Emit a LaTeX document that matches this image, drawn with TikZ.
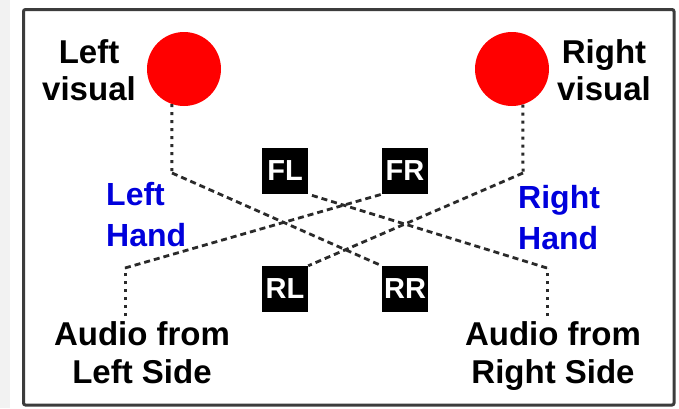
\documentclass[tikz,border=0pt]{standalone}
\usepackage{fontspec}
\setmainfont{Liberation Sans}
\usetikzlibrary{calc}
\definecolor{framegray}{HTML}{3C3C3C}
\definecolor{wire}{HTML}{2A2A2A}
\definecolor{handblue}{HTML}{0000DC}
\definecolor{spot}{HTML}{FF0000}

\begin{document}
\begin{tikzpicture}[x=1pt,y=-1pt,
  lbl/.style={font=\bfseries\fontsize{33}{37}\selectfont, inner sep=0pt, align=center},
  audio/.style={font=\bfseries\fontsize{33}{38}\selectfont, inner sep=0pt, align=center},
  hand/.style={font=\bfseries\fontsize{32}{41}\selectfont, text=handblue, inner sep=0pt, align=left},
  spk/.style={fill=black, text=white, minimum size=46pt, inner sep=0pt, font=\bfseries\fontsize{29}{29}\selectfont},
  eye/.style={circle, fill=spot, minimum size=74pt, inner sep=0pt},
  dotline/.style={draw=wire, line width=3pt, dash pattern=on 3pt off 5pt},
  dashline/.style={draw=wire, line width=2.8pt, dash pattern=on 6pt off 4pt},
]
\useasboundingbox (0,0) rectangle (679,408);
\fill[white] (0,0) rectangle (679,408);
\fill[gray!10] (0,0) rectangle (10,408);
\draw[framegray, line width=3pt, rounded corners=2pt] (23.5,9.5) rectangle (674,405);

% visual targets
\node[eye] (LV) at (184,69) {};
\node[eye] (RV) at (512,69) {};
\node[lbl, anchor=north] (LVt) at (89,39) {Left\\visual};
\node[lbl, anchor=north] (RVt) at (604,39) {Right\\visual};

% hand labels
\node[hand, anchor=north west] (LH) at (106,182) {Left\\Hand};
\node[hand, anchor=north west] (RH) at (518,185) {Right\\Hand};

% audio sources
\node[audio, anchor=north] (AL) at (142,321) {Audio from\\Left Side};
\node[audio, anchor=north] (AR) at (553,321) {Audio from\\Right Side};

% speaker boxes
\node[spk] (FL) at (285,171) {FL};
\node[spk] (FR) at (405,171) {FR};
\node[spk] (RL) at (285,289) {RL};
\node[spk] (RR) at (405,289) {RR};

% bend points of the wiring
\coordinate (lbend) at (172,173);
\coordinate (rbend) at (523,173);
\coordinate (albend) at (125,268);
\coordinate (alfoot) at (125,316);
\coordinate (arbend) at (547,268);
\coordinate (arfoot) at (547,316);

\draw[dotline] (LV.-109) -- (lbend);
\draw[dashline] (lbend) -- (RR.north west);
\draw[dotline] (RV.-73) -- (rbend);
\draw[dashline] (rbend) -- (RL.north east);
\draw[dotline] (alfoot) -- (albend);
\draw[dashline] (albend) -- (FR.south west);
\draw[dotline] (arfoot) -- (arbend);
\draw[dashline] (arbend) -- (FL.south east);
\end{tikzpicture}
\end{document}
